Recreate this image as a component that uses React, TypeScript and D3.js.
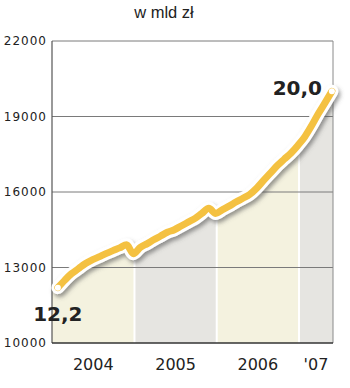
import React from "react";
import * as d3 from "d3";

const title = "w mld zł";
const yTicks = [10000, 13000, 16000, 19000, 22000];
const years = [2004, 2005, 2006, 2007];
const yearLabels = ["2004", "2005", "2006", "'07"];
const bandColors = ["#f4f2df", "#e6e5e1", "#f4f2df", "#e6e5e1"];
// monthly values, Jan 2004 .. May 2007 (mld zł)
const months = d3.range(41).map((i) => new Date(2004, i, 27));
const values = [
  12.2, 12.5, 12.75, 12.95, 13.15, 13.3, 13.42, 13.55, 13.67, 13.78, 13.9, 13.55,
  13.8, 13.95, 14.1, 14.25, 14.4, 14.5, 14.65, 14.8, 14.95, 15.15, 15.35, 15.15,
  15.3, 15.45, 15.6, 15.75, 15.9, 16.15, 16.45, 16.75, 17.05, 17.3, 17.55, 17.85,
  18.2, 18.65, 19.1, 19.55, 20.0,
];
const firstLabel = "12,2";
const lastLabel = "20,0";

export default function App() {
  const W = 350, H = 388;
  const left = 52, right = 333, top = 41, bottom = 343;
  const x = d3.scaleTime().domain([new Date(2004, 0, 1), new Date(2007, 5, 1)]).range([left, right]);
  const y = d3.scaleLinear().domain([10000, 22000]).range([bottom, top]);
  const pts = months.map((d, i) => ({ d, v: values[i] * 1000 }));
  const line = d3.line<any>().x((p) => x(p.d)).y((p) => y(p.v)).curve(d3.curveMonotoneX);
  const area = d3.area<any>().x((p) => x(p.d)).y0(bottom).y1((p) => y(p.v)).curve(d3.curveMonotoneX);
  const areaPts = [{ d: x.domain()[0], v: values[0] * 1000 }, ...pts, { d: x.domain()[1], v: values[values.length - 1] * 1000 }];
  const lp = line(pts) || "";
  const first = pts[0], last = pts[pts.length - 1];
  const yellow = "#f4c141";
  const tickFont = "'DejaVu Sans', sans-serif";
  return (
    <svg width={W} height={H} style={{ position: "absolute", left: 0, top: 0, background: "#fff" }}>
      <defs>
        <clipPath id="areaClip">
          <path d={area(areaPts) || ""} />
        </clipPath>
        <filter id="shadow" x="-10%" y="-10%" width="130%" height="130%">
          <feDropShadow dx="2" dy="3" stdDeviation="2.2" floodColor="#555" floodOpacity="0.6" />
        </filter>
      </defs>
      <text x={164} y={18} textAnchor="middle" fontFamily="'Liberation Sans', Arial, sans-serif" fontSize={16.5} fill="#222">
        {title}
      </text>
      <g clipPath="url(#areaClip)">
        {years.map((yr, i) => {
          const x0 = Math.max(left, x(new Date(yr, 0, 1)));
          const x1 = Math.min(right, x(new Date(yr + 1, 0, 1)));
          return (
            <rect key={yr} x={x0 + (i > 0 ? 1 : 0)} y={top} width={x1 - x0 - (i > 0 ? 1 : 0) - (i < years.length - 1 ? 1 : 0)} height={bottom - top} fill={bandColors[i]} />
          );
        })}
      </g>
      {yTicks.filter((t) => t > 10000).map((t) => (
        <line key={t} x1={left} x2={right} y1={y(t)} y2={y(t)} stroke="#7a7a7a" strokeWidth={1} />
      ))}
      <line x1={right} x2={right} y1={top} y2={bottom} stroke="#8a8a8a" strokeWidth={1} />
      <line x1={left} x2={left} y1={top} y2={bottom} stroke="#555" strokeWidth={1.2} />
      <line x1={left} x2={right} y1={bottom} y2={bottom} stroke="#333" strokeWidth={1.5} />
      {yTicks.map((t) => (
        <text key={t} x={47} y={y(t)} dy="0.36em" textAnchor="end" fontFamily={tickFont} fontSize={12} letterSpacing={1} fill="#222">
          {t}
        </text>
      ))}
      {years.map((yr, i) => {
        const x0 = Math.max(left, x(new Date(yr, 0, 1)));
        const x1 = Math.min(right, x(new Date(yr + 1, 0, 1)));
        return (
          <text key={yr} x={(x0 + x1) / 2} y={370} textAnchor="middle" fontFamily={tickFont} fontSize={16} fill="#222">
            {yearLabels[i]}
          </text>
        );
      })}
      <g filter="url(#shadow)">
        <path d={lp} fill="none" stroke="#fff" strokeWidth={13} strokeLinecap="round" strokeLinejoin="round" />
      </g>
      <path d={lp} fill="none" stroke={yellow} strokeWidth={7} strokeLinecap="round" strokeLinejoin="round" />
      <circle cx={x(first.d)} cy={y(first.v)} r={3} fill="#fff" />
      <circle cx={x(last.d)} cy={y(last.v)} r={3} fill="#fff" />
      <text x={x(first.d)} y={321} textAnchor="middle" fontFamily={tickFont} fontWeight="bold" fontSize={20} fill="#222">
        {firstLabel}
      </text>
      <text x={322} y={95} textAnchor="end" fontFamily={tickFont} fontWeight="bold" fontSize={20} fill="#222">
        {lastLabel}
      </text>
    </svg>
  );
}
